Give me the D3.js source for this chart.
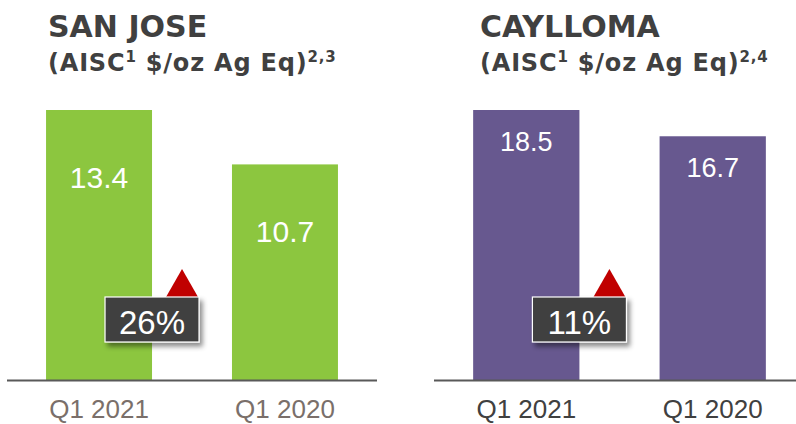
<!DOCTYPE html>
<html>
<head>
<meta charset="utf-8">
<script src="https://cdn.jsdelivr.net/npm/d3@7"></script>
<style>
  body { margin: 0; background: #fff; }
  svg { display: block; }
</style>
</head>
<body>
<div id="chart"></div>
<script>
// chart values
const mines = ["SAN JOSE", "CAYLLOMA"];
const footnotes = ["2,3", "2,4"];
const quarters = ["Q1 2021", "Q1 2020"];
const sanJoseAisc = [13.4, 10.7];
const cayllomaAisc = [18.5, 16.7];
const changeLabels = ["26%", "11%"];

const W = 796, H = 424;
const baseY = 380, topY = 110;

// per-panel layout
const panels = [
    {title: mines[0], note: footnotes[0], values: sanJoseAisc, change: changeLabels[0],
     color: "#8cc63f", x0: 7, x1: 377, lineEnd: 377, titleX: 48,
     labelSize: 30, labelOffset: 78, tickColor: "#7a6f6a"},
    {title: mines[1], note: footnotes[1], values: cayllomaAisc, change: changeLabels[1],
     color: "#67588f", x0: 434, x1: 805, lineEnd: 796, titleX: 480,
     labelSize: 27, labelOffset: 41, tickColor: "#404040"}
];

const svg = d3.select("#chart").append("svg")
    .attr("width", W)
    .attr("height", H);

// drop shadow for the change badge
const filt = svg.append("defs").append("filter")
    .attr("id", "shadow")
    .attr("x", "-20%").attr("y", "-20%")
    .attr("width", "150%").attr("height", "160%");
filt.append("feDropShadow")
    .attr("dx", 3).attr("dy", 4)
    .attr("stdDeviation", 2.5)
    .attr("flood-color", "#000")
    .attr("flood-opacity", 0.45);

panels.forEach(p => {
    const g = svg.append("g");

    const x = d3.scaleBand()
        .domain(quarters)
        .range([p.x0, p.x1])
        .paddingInner(0.43)
        .paddingOuter(0.21);

    const y = d3.scaleLinear()
        .domain([0, d3.max(p.values)])
        .range([baseY, topY]);

    // titles
    g.append("text")
        .attr("x", p.titleX).attr("y", 37)
        .attr("fill", "#404040")
        .style("font-family", "'DejaVu Sans', sans-serif")
        .style("font-weight", "bold")
        .style("font-size", "30px")
        .text(p.title);

    const sub = g.append("text")
        .attr("x", p.titleX).attr("y", 71)
        .attr("fill", "#404040")
        .style("font-family", "'DejaVu Sans', sans-serif")
        .style("font-weight", "bold")
        .style("font-size", "24px")
        .style("letter-spacing", "0.8px");
    sub.append("tspan").text("(AISC");
    sub.append("tspan").attr("dy", -9).style("font-size", "15px").text("1");
    sub.append("tspan").attr("dy", 9).text(" $/oz Ag Eq)");
    sub.append("tspan").attr("dy", -9).style("font-size", "15px").text(p.note);

    const data = quarters.map((q, i) => ({q, v: p.values[i]}));

    // bars
    g.selectAll(".bar").data(data).enter()
        .append("rect")
        .attr("class", "bar")
        .attr("x", d => x(d.q))
        .attr("y", d => y(d.v))
        .attr("width", x.bandwidth())
        .attr("height", d => baseY - y(d.v))
        .attr("fill", p.color);

    // value labels
    g.selectAll(".val").data(data).enter()
        .append("text")
        .attr("class", "val")
        .attr("x", d => x(d.q) + x.bandwidth() / 2)
        .attr("y", d => y(d.v) + p.labelOffset)
        .attr("text-anchor", "middle")
        .attr("fill", "#fff")
        .style("font-family", "'Liberation Sans', Arial, sans-serif")
        .style("font-size", p.labelSize + "px")
        .text(d => d.v.toFixed(1));

    // baseline
    g.append("line")
        .attr("x1", p.x0).attr("x2", p.lineEnd)
        .attr("y1", baseY + 0.5).attr("y2", baseY + 0.5)
        .attr("stroke", "#595959")
        .attr("stroke-width", 2);

    // category ticks
    const axis = g.append("g")
        .attr("transform", `translate(0,${baseY})`)
        .call(d3.axisBottom(x).tickSize(0).tickPadding(0));
    axis.select(".domain").remove();
    axis.selectAll("text")
        .attr("y", 38)
        .attr("dy", null)
        .attr("fill", p.tickColor)
        .style("font-family", "'Liberation Sans', Arial, sans-serif")
        .style("font-size", "26px");

    // change badge, centred on the right edge of the first bar
    const cx = x(quarters[0]) + x.bandwidth();
    const bw = 94, bh = 45, by = 297;

    g.append("path")
        .attr("d", d3.line()([[cx + 14, by], [cx + 30, by - 28], [cx + 46, by]]) + "Z")
        .attr("fill", "#c00000");

    g.append("rect")
        .attr("x", cx - bw / 2).attr("y", by)
        .attr("width", bw).attr("height", bh)
        .attr("fill", "#404040")
        .attr("stroke", "#fff")
        .attr("stroke-width", 1.2)
        .attr("filter", "url(#shadow)");

    g.append("text")
        .attr("x", cx).attr("y", by + 37)
        .attr("text-anchor", "middle")
        .attr("fill", "#fff")
        .style("font-family", "'Liberation Sans', Arial, sans-serif")
        .style("font-size", "33px")
        .text(p.change);
});
</script>
</body>
</html>
